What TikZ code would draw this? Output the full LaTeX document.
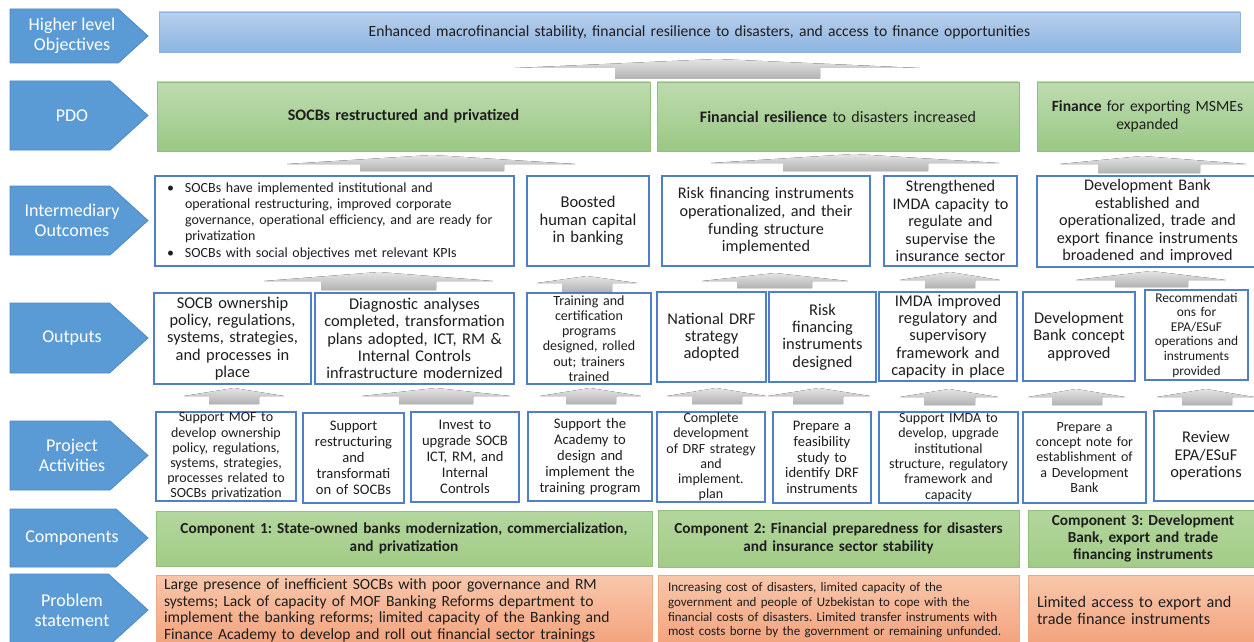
\documentclass[tikz,border=0pt]{standalone}
\usepackage{fontspec}
\setmainfont{Carlito}
\frenchspacing
\definecolor{lblue}{HTML}{5B9BD5}
\definecolor{lblueb}{HTML}{4A89C8}
\definecolor{bbord}{HTML}{4F7FC9}
\definecolor{htop}{HTML}{B8D0EC}
\definecolor{hbot}{HTML}{8DB4E2}
\definecolor{hbord}{HTML}{8EB3E0}
\definecolor{gtop}{HTML}{BDDBAF}
\definecolor{gbot}{HTML}{9BC885}
\definecolor{gbord}{HTML}{93BE7D}
\definecolor{ctop}{HTML}{B3D69E}
\definecolor{cbot}{HTML}{A2CC86}
\definecolor{otop}{HTML}{F8C7AB}
\definecolor{obot}{HTML}{F3A27C}
\definecolor{obord}{HTML}{EDA985}
\definecolor{ahi}{HTML}{E4E4E4}
\definecolor{alo}{HTML}{B2B2B2}
\definecolor{txt}{HTML}{1E1E1E}
\newcommand\fsz[2]{\fontsize{#1}{#2}\selectfont}
% [pad] name x1 y1 x2 y2 style text
\newcommand\mybox[8][2]{%
  \pgfmathsetmacro\bw{#5-#3}\pgfmathsetmacro\bh{#6-#4}\pgfmathsetmacro\tw{#5-#3-2*#1}%
  \node[#7, minimum width=\bw pt, minimum height=\bh pt, text width=\tw pt] (#2) at ({(#3+#5)/2},{(#4+#6)/2}) {#8};}
% headL headR apexX apexY baseY shaftL shaftR bottom
\newcommand\uparr[8]{%
  \fill[uparrow] (#1,#5) -- (#3,#4) -- (#2,#5) -- (#7,#5) -- (#7,#8) -- (#6,#8) -- (#6,#5) -- cycle;}
% name y1 y2 text
\newcommand\lblarr[4]{%
  \pgfmathsetmacro\ym{(#2+#3)/2}\pgfmathsetmacro\xb{148-0.55*(#3-#2)}%
  \draw[lbl] (10,#2) -- (\xb,#2) -- (148,\ym) -- (\xb,#3) -- (10,#3) -- cycle;
  \node[lbltxt] (#1) at (72,\ym) {#4};}
\newcommand\jl[1]{\makebox[318pt][s]{#1}}
\begin{document}
\begin{tikzpicture}[x=1pt,y=-1pt,
  lbl/.style={fill=lblue, draw=lblueb, line width=0.8pt},
  lbltxt/.style={text=white, font=\fsz{18}{20}, align=center, inner sep=0},
  hbox/.style={top color=htop, bottom color=hbot, draw=hbord, line width=0.6pt, align=center, inner sep=0, text=txt, font=\fsz{15.6}{16}},
  wbox/.style={draw=bbord, line width=1.1pt, fill=white, align=center, inner sep=0, text=txt},
  pdo/.style={top color=gtop, bottom color=gbot, draw=gbord, line width=0.6pt, align=center, inner sep=0, text=txt},
  comp/.style={top color=ctop, bottom color=cbot, draw=gbord, line width=0.6pt, align=center, inner sep=0, text=txt, font=\bfseries\fsz{15.3}{18}},
  prob/.style={top color=otop, bottom color=obot, draw=obord, line width=0.6pt, align=left, inner sep=0, text=txt},
  uparrow/.style={top color=ahi, bottom color=alo, draw=none}
]
\useasboundingbox (0,0) rectangle (1254,642);
\clip (0,0) rectangle (1254,642);

% left labels
\lblarr{hloL}{9}{63}{Higher level\\Objectives}
\lblarr{pdoL}{81}{150}{PDO}
\lblarr{ioL}{186}{255}{Intermediary\\Outcomes}
\lblarr{outL}{303}{373}{Outputs}
\lblarr{actL}{421}{490}{Project\\Activities}
\lblarr{compL}{509}{567}{Components}
\lblarr{probL}{574}{646}{Problem\\statement}

% higher level objective
\mybox{hlo}{159}{12}{1240}{52}{hbox}{Enhanced macrofinancial stability, financial resilience to disasters, and access to finance opportunities}

% PDO
\mybox{pdoA}{157}{82}{650}{151}{pdo,font=\bfseries\fsz{16}{18}}{SOCBs restructured and privatized}
\mybox{pdoB}{657}{82}{1019}{151}{pdo,font=\fsz{16}{18}}{\textbf{Financial resilience} to disasters increased}
\mybox{pdoC}{1037}{82}{1258}{151}{pdo,font=\fsz{15.6}{18}}{\textbf{Finance} for exporting MSMEs\\expanded}

% intermediary outcomes
\mybox[10]{ioA}{155}{176}{514}{266}{wbox,align=left,font=\fsz{14}{16.3}}{%
\makebox[20pt][l]{\hspace{2pt}\textbullet}\jl{SOCBs have implemented institutional and}\\
\hspace*{20pt}\jl{operational restructuring, improved corporate}\\
\hspace*{20pt}\jl{governance, operational efficiency, and are ready for}\\
\hspace*{20pt}privatization\\
\makebox[20pt][l]{\hspace{2pt}\textbullet}SOCBs with social objectives met relevant KPIs}
\mybox{ioB}{527}{176}{649}{266}{wbox,font=\fsz{16.5}{17.5}}{Boosted\\human capital\\in banking}
\mybox{ioC}{662}{176}{870}{266}{wbox,font=\fsz{16.2}{17.7}}{Risk financing instruments\\operationalized, and their\\funding structure\\implemented}
\mybox{ioD}{884}{176}{1017}{266}{wbox,font=\fsz{16.2}{17.5}}{Strengthened\\IMDA capacity to\\regulate and\\supervise the\\insurance sector}
\mybox{ioE}{1037}{176}{1258}{267}{wbox,font=\fsz{16.2}{17.5}}{Development Bank\\established and\\operationalized, trade and\\export finance instruments\\broadened and improved}

% outputs
\mybox{oA}{154}{293}{311}{384}{wbox,font=\fsz{16.4}{17.3}}{SOCB ownership\\policy, regulations,\\systems, strategies,\\and processes in\\place}
\mybox{oB}{315}{293}{514}{384}{wbox,font=\fsz{16.4}{17.3}}{Diagnostic analyses\\completed, transformation\\plans adopted, ICT, RM \&\\Internal Controls\\infrastructure modernized}
\mybox{oC}{527}{293}{651}{384}{wbox,font=\fsz{14}{15.2}}{Training and\\certification\\programs\\designed, rolled\\out; trainers\\trained}
\mybox{oD}{657}{292}{766}{382}{wbox,font=\fsz{16.4}{17.3}}{National DRF\\strategy\\adopted}
\mybox{oE}{769}{292}{876}{382}{wbox,font=\fsz{16.4}{17.3}}{Risk\\financing\\instruments\\designed}
\mybox{oF}{879}{292}{1017}{381}{wbox,font=\fsz{16.4}{17.3}}{IMDA improved\\regulatory and\\supervisory\\framework and\\capacity in place}
\mybox{oG}{1023}{292}{1135}{381}{wbox,font=\fsz{16.4}{17.3}}{Development\\Bank concept\\approved}
\mybox{oH}{1145}{290}{1248}{380}{wbox,font=\fsz{13.4}{14.6}}{Recommendati\\ons for\\EPA/ESuF\\operations and\\instruments\\provided}

% activities
\mybox{aA}{156}{412}{296}{501}{wbox,font=\fsz{14}{15.2}}{Support MOF to\\develop ownership\\policy, regulations,\\systems, strategies,\\processes related to\\SOCBs privatization}
\mybox{aB}{303}{413}{404}{503}{wbox,font=\fsz{14.6}{16}}{Support\\restructuring\\and\\transformati\\on of SOCBs}
\mybox{aC}{411}{412}{519}{502}{wbox,font=\fsz{14.6}{16}}{Invest to\\upgrade SOCB\\ICT, RM, and\\Internal\\Controls}
\mybox{aD}{528}{412}{652}{501}{wbox,font=\fsz{14.6}{16}}{Support the\\Academy to\\design and\\implement the\\training program}
\mybox{aE}{657}{412}{765}{502}{wbox,font=\fsz{14}{15.2}}{Complete\\development\\of DRF strategy\\and\\implement.\\plan}
\mybox{aF}{773}{412}{871}{503}{wbox,font=\fsz{14.6}{15.8}}{Prepare a\\feasibility\\study to\\identify DRF\\instruments}
\mybox{aG}{879}{412}{1018}{503}{wbox,font=\fsz{14}{15.3}}{Support IMDA to\\develop, upgrade\\institutional\\structure, regulatory\\framework and\\capacity}
\mybox{aH}{1023}{412}{1146}{503}{wbox,font=\fsz{14}{15.2}}{Prepare a\\concept note for\\establishment of\\a Development\\Bank}
\mybox{aI}{1154}{411}{1258}{501}{wbox,font=\fsz{16.4}{17.5}}{Review\\EPA/ESuF\\operations}

% components
\mybox{cA}{156}{511}{652}{566}{comp}{Component 1: State-owned banks modernization, commercialization,\\and privatization}
\mybox{cB}{658}{510}{1019}{567}{comp}{Component 2: Financial preparedness for disasters\\and insurance sector stability}
\mybox{cC}{1028}{510}{1258}{567}{comp,font=\bfseries\fsz{15.3}{17}}{Component 3: Development\\Bank, export and trade\\financing instruments}

% problem statements
\mybox[8]{pA}{156}{575}{652}{646}{prob,font=\fsz{15.6}{16.7}}{Large presence of inefficient SOCBs with poor governance and RM\\systems; Lack of capacity of MOF Banking Reforms department to\\implement the banking reforms; limited capacity of the Banking and\\Finance Academy to develop and roll out financial sector trainings}
\mybox[10]{pB}{658}{575}{1019}{646}{prob,font=\fsz{13}{14.7}}{Increasing cost of disasters, limited capacity of the\\government and people of Uzbekistan to cope with the\\financial costs of disasters. Limited transfer instruments with\\most costs borne by the government or remaining unfunded.}
\mybox[9]{pC}{1028}{575}{1258}{646}{prob,font=\fsz{16.2}{16.5}}{Limited access to export and\\trade finance instruments}

% block arrows
\uparr{515}{920}{717}{59}{68}{615}{820}{79}
\uparr{287}{575}{432}{155}{164}{360}{504}{171}
\uparr{711}{999}{854}{154}{163}{783}{928}{171}
\uparr{1060}{1246}{1142}{156}{164}{1098}{1200}{173}
\uparr{264}{493}{379}{272}{281}{321}{436}{290}
\uparr{537}{637}{587}{276}{283}{562}{612}{292}
\uparr{702}{848}{775}{273}{281}{737}{812}{288}
\uparr{900}{1000}{950}{272}{280}{925}{975}{288}
\uparr{1076}{1226}{1151}{271}{280}{1115}{1188}{287}
\uparr{184}{284}{234}{388}{396}{209}{259}{404}
\uparr{362}{510}{436}{388}{396}{399}{473}{404}
\uparr{540}{641}{590}{388}{396}{566}{616}{404}
\uparr{667}{766}{716}{388}{396}{692}{742}{404}
\uparr{768}{870}{819}{388}{396}{793}{843}{404}
\uparr{900}{998}{949}{389}{397}{924}{975}{405}
\uparr{1028}{1125}{1076}{389}{397}{1052}{1102}{405}
\uparr{1157}{1254}{1206}{389}{397}{1182}{1232}{405}
\end{tikzpicture}
\end{document}
